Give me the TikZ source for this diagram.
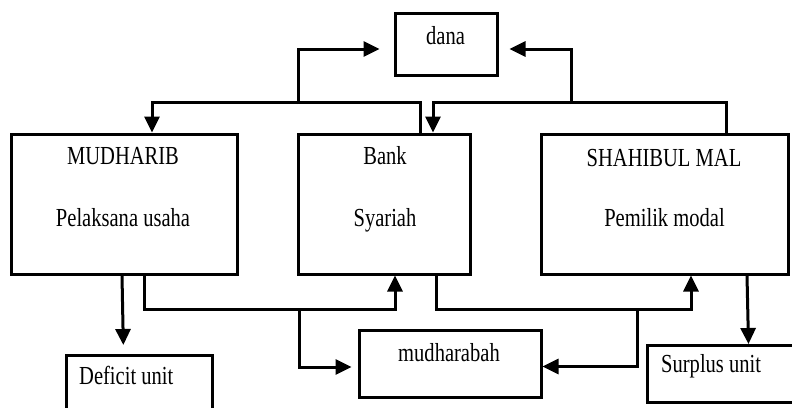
\documentclass[tikz,border=0pt]{standalone}
\usepackage{fontspec}
\setmainfont{Liberation Serif}[FakeStretch=0.79]
\usetikzlibrary{positioning}
\usetikzlibrary{arrows.meta}

\tikzset{
  box/.style={draw, line width=3pt, rectangle, inner sep=0pt},
  lbl/.style={font=\fontsize{26}{31}\selectfont, inner sep=0pt, text height=0.66em, text depth=0pt},
  flow/.style={line width=3pt, -{Triangle[length=16pt,width=15pt]}},
  wire/.style={line width=3pt}
}

\begin{document}
\begin{tikzpicture}[x=1pt, y=-1pt]
\path[use as bounding box, clip] (0,0) rectangle (792,407);
%boxes
\node[box, minimum width=226, minimum height=140] (mudharib) at (124,204) {};
\node[box, minimum width=172, minimum height=140] (bank) at (384,204) {};
\node[box, minimum width=247, minimum height=140] (shahibul) at (664.5,204) {};
\node[box, minimum width=102, minimum height=62] (dana) at (446,44) {};
\node[box, minimum width=182, minimum height=67] (mudharabah) at (450,363.5) {};
\node[box, anchor=north west, minimum width=146, minimum height=70] (deficit) at (65,354) {};
\node[box, anchor=north west, minimum width=160, minimum height=57] (surplus) at (646,344) {};
%texts
\node[lbl] (mudharibT) at (123,161.5) {MUDHARIB};
\node[lbl] (mudharibS) at (123,223.5) {Pelaksana usaha};
\node[lbl] (bankT) at (385,161.5) {Bank};
\node[lbl] (bankS) at (385,223.5) {Syariah};
\node[lbl] (shahibulT) at (664,163) {SHAHIBUL MAL};
\node[lbl] (shahibulS) at (664.5,223.5) {Pemilik modal};
\node[lbl] (danaT) at (445.5,41) {dana};
\node[lbl] (mudharabahT) at (449,358) {mudharabah};
\node[lbl, anchor=west] (deficitT) at (79,381) {Deficit unit};
\node[lbl, anchor=west] (surplusT) at (661,369) {Surplus unit};
%junctions
\coordinate (jTopL) at (298,104);
\coordinate (jTopR) at (571,104);
\coordinate (jBotL) at (299,308);
\coordinate (jBotR) at (637,308);
%top arrows
\draw[flow] ([xshift=36pt]bank.north) -- ++(0,-30) -| ([xshift=28pt]mudharib.north);
\draw[flow, shorten >=14pt] (jTopL) |- ([yshift=-5pt]dana.west);
\draw[flow] ([xshift=61.5pt]shahibul.north) -- ++(0,-30) -| ([xshift=49pt]bank.north);
\draw[flow, shorten >=11pt] (jTopR) |- ([yshift=-5pt]dana.east);
%bottom arrows
\draw[flow] ([xshift=20pt]mudharib.south) -- ++(0,34) -| ([xshift=11pt]bank.south);
\draw[flow, shorten >=6pt] (jBotL) |- ([yshift=-3.5pt]mudharabah.west);
\draw[flow] ([xshift=52pt]bank.south) -- ++(0,34) -| ([xshift=26.5pt]shahibul.south);
\draw[flow] (jBotR) |- ([yshift=-3pt]mudharabah.east);
%units
\draw[flow, shorten >=9pt] ([xshift=-2pt]mudharib.south) -- ([xshift=-16pt]deficit.north);
\draw[flow] ([xshift=82.5pt]shahibul.south) -- ([xshift=21pt]surplus.north);
\end{tikzpicture}
\end{document}
